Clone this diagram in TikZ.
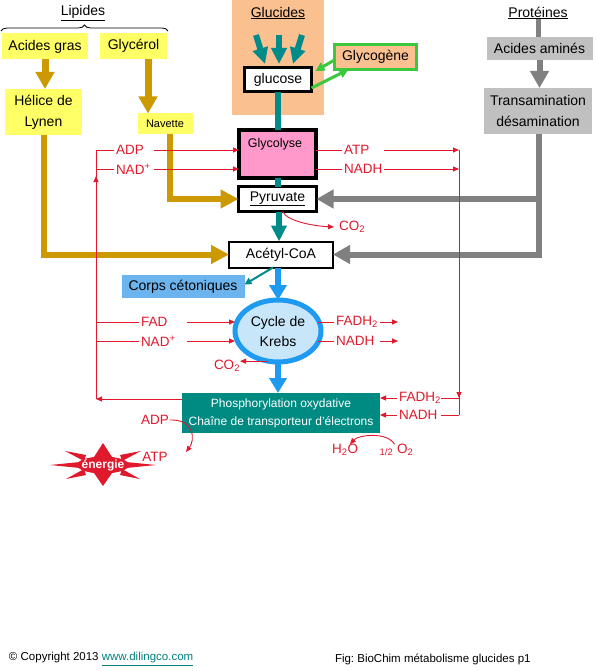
\documentclass[tikz,border=0pt]{standalone}
\usepackage{fontspec}
\setmainfont{Liberation Sans}
\usetikzlibrary{arrows.meta,shapes.geometric,decorations.pathreplacing}
\definecolor{yelc}{HTML}{FFFF66}
\definecolor{goldc}{HTML}{CC9900}
\definecolor{tealc}{HTML}{008B8B}
\definecolor{phc}{HTML}{008B82}
\definecolor{peachc}{HTML}{FAC090}
\definecolor{greenc}{HTML}{3CC83C}
\definecolor{gboxc}{HTML}{C0C0C0}
\definecolor{garrc}{HTML}{808080}
\definecolor{pinkc}{HTML}{FF99CC}
\definecolor{corpsc}{HTML}{6CB4EE}
\definecolor{bluec}{HTML}{1E9BF0}
\definecolor{krebsc}{HTML}{C8E6FA}
\definecolor{redc}{HTML}{E0192D}
\definecolor{linkc}{HTML}{008080}
\newcommand\myfs[1]{\fontsize{#1}{#1}\selectfont}
\frenchspacing
\begin{document}
\begin{tikzpicture}[x=1pt,y=-1pt,
  base/.style={inner sep=0pt, outer sep=0pt, font=\myfs{14}, text=black},
  ybox/.style={base, fill=yelc},
  gbox/.style={base, fill=gboxc},
  wbox/.style={base, draw=black, fill=white},
  rl/.style={base, font=\myfs{13.5}, text=redc},
  rlw/.style={rl, inner sep=2pt, align=left},
  goldarrow/.style={draw=goldc, line width=7pt, -{Triangle[width=18pt,length=17pt]}},
  goldarrowb/.style={draw=goldc, line width=6pt, -{Triangle[width=18pt,length=18pt]}},
  tealarrow/.style={draw=tealc, line width=6pt, -{Triangle[width=15pt,length=16pt]}},
  tealline/.style={draw=tealc, line width=6pt},
  greenarrow/.style={draw=greenc, line width=3pt, -{Triangle[width=9pt,length=9pt]}},
  grayarrow/.style={draw=garrc, line width=6pt, -{Triangle[width=18pt,length=17pt]}},
  grayline/.style={draw=garrc, line width=5pt},
  bluearrow/.style={draw=bluec, line width=6pt, -{Triangle[width=17pt,length=15pt]}},
  rline/.style={draw=redc, line width=0.9pt},
  rtip/.style={rline, -{Triangle[width=5pt,length=6pt]}}
]
\useasboundingbox (0,0) rectangle (595,671);
\fill[white] (0,0) rectangle (595,671);

% ---------- backgrounds ----------
\node[fill=peachc, minimum width=92pt, minimum height=115pt, inner sep=0pt] (glubg) at (278,57.5) {};

% ---------- headings ----------
\node[base] (lipides) at (83,13) {\underline{Lipides}};
\node[base] (glucides) at (278,13) {\underline{Glucides}};
\node[base] (proteines) at (538,13) {\underline{Protéines}};
\coordinate (br1) at (1,31);
\coordinate (br2) at (168,31);
\draw[black, line width=0.8pt, decorate, decoration={brace, amplitude=6pt}] (br1) -- (br2);

% ---------- lipid side ----------
\node[ybox, minimum width=86pt, minimum height=26pt] (acides) at (45,46.5) {Acides gras};
\node[ybox, minimum width=67pt, minimum height=26pt] (glycerol) at (133.5,46) {Glycérol};
\node[ybox, minimum width=77pt, minimum height=46pt, align=center] (helice) at (43.5,112) {Hélice de\\[7pt]Lynen};
\node[ybox, font=\myfs{11}, minimum width=55pt, minimum height=21pt] (navette) at (165,124) {Navette};

% ---------- glucide column ----------
\node[wbox, line width=3pt, minimum width=67pt, minimum height=24pt] (glucose) at (278,80) {glucose};
\node[base, draw=greenc, fill=peachc, line width=3pt, minimum width=82pt, minimum height=25pt] (glycogene) at (375.5,57) {Glycogène};
\node[base, draw=black, fill=pinkc, line width=4pt, minimum width=77pt, minimum height=48pt] (glyco) at (277.5,154) {};
\node[base, font=\myfs{12.5}] (glycotxt) at (275,144) {Glycolyse};
\node[wbox, line width=3pt, minimum width=78pt, minimum height=25pt] (pyruvate) at (277.5,199) {\underline{Pyruvate}};
\node[wbox, line width=2pt, minimum width=104pt, minimum height=26pt] (acetyl) at (281,254.5) {Acétyl-CoA};
\node[base, fill=corpsc, minimum width=123pt, minimum height=23pt] (corps) at (183,286.5) {Corps cétoniques};
\node[base, ellipse, draw=bluec, fill=krebsc, line width=5pt, minimum width=86pt, minimum height=62pt, align=center] (krebs) at (278,331) {Cycle de\\[6pt]Krebs};
\node[base, fill=phc, text=white, font=\myfs{12}, minimum width=198pt, minimum height=40pt, align=center] (phosph) at (281,413) {Phosphorylation oxydative\\[6pt]Chaîne de transporteur d'électrons};

% ---------- protein side ----------
\node[gbox, minimum width=106pt, minimum height=23pt] (amines) at (539.5,48.5) {Acides aminés};
\node[gbox, minimum width=108pt, minimum height=46pt, align=center] (transam) at (538,111) {Transamination\\[7pt]désamination};

% ---------- gold arrows ----------
\coordinate (gx) at (148,0);
\draw[goldarrow] (acides.south) -- (acides.south |- helice.north);
\draw[goldarrow] (glycerol.south -| gx) -- (navette.north -| gx);
\draw[goldarrowb] ([xshift=5pt]navette.south) |- (pyruvate.west);
\draw[goldarrowb] (helice.south) |- (acetyl.west);

% ---------- teal arrows ----------
\coordinate (t1s) at (256,35); \coordinate (t1e) at (265,64);
\coordinate (t2s) at (279,35); \coordinate (t2e) at (279,64);
\coordinate (t3s) at (302,35); \coordinate (t3e) at (293,64);
\draw[tealarrow] (t1s) -- (t1e);
\draw[tealarrow] (t3s) -- (t3e);
\draw[tealarrow] (t2s) -- (t2e);
\draw[tealline] (glucose.south) -- (glucose.south |- glyco.north);
\draw[tealline] (glyco.south) -- (glyco.south |- pyruvate.north);
\draw[tealarrow] ([xshift=1.5pt]pyruvate.south) -- ([xshift=1.5pt]pyruvate.south |- acetyl.north);
\draw[draw=tealc, line width=2pt, -{Triangle[width=7pt,length=7pt]}] ([xshift=-8pt]acetyl.south) -- ([yshift=2pt]corps.east);

% ---------- green arrows ----------
\draw[greenarrow] ([yshift=-3pt]glycogene.west) -- ([xshift=4pt,yshift=9pt]glucose.east);
\draw[greenarrow] ([yshift=-8pt]glucose.east) -- ([xshift=14pt]glycogene.south west);

% ---------- gray arrows ----------
\coordinate (gv) at (539,0);
\draw[grayline] (proteines.south) -- (proteines.south |- amines.north);
\draw[grayarrow] (amines.south) -- (amines.south |- transam.north);
\draw[grayarrow] (transam.south -| gv) |- (acetyl.east);
\draw[grayarrow] (pyruvate.east -| gv) -- (pyruvate.east);

% ---------- blue arrows ----------
\draw[bluearrow] (acetyl.south -| krebs.north) -- (krebs.north);
\draw[bluearrow] (krebs.south) -- (krebs.south |- phosph.north);

% ---------- red: glycolysis ----------
\coordinate (LT) at (96,150);
\coordinate (LB) at (96,399);
\coordinate (LA) at (96,176);
\node[rlw, anchor=west, text width=36pt] (adp1) at (114,150) {ADP};
\node[rlw, anchor=west, text width=36pt] (nad1) at (114,169) {NAD\textsuperscript{+}};
\draw[rline] (LB) -- (LT) -- (adp1.west);
\draw[rline] (LT |- nad1.west) -- (nad1.west);
\draw[rtip] (LB) -- (LA);
\draw[rtip] (LB -| phosph.west) -- (LB);
\draw[rtip] (adp1.east) -- (adp1.east -| glyco.west);
\draw[rtip] (nad1.east) -- (nad1.east -| glyco.west);

\node[rlw, anchor=west, text width=38pt] (atp1) at (342,150) {ATP};
\node[rlw, anchor=west, text width=38pt] (nadh1) at (342,169) {NADH};
\draw[rline] (atp1.west -| glyco.east) -- (atp1.west);
\draw[rline] (nadh1.west -| glyco.east) -- (nadh1.west);
\coordinate (RV) at (459,150);
\coordinate (RA) at (459,398);
\coordinate (RB) at (459,415);
\draw[rtip] (atp1.east) -- (atp1.east -| RV);
\draw[rtip] (nadh1.east) -- (nadh1.east -| RV);
\draw[rline] (RV) -- (RB);
\draw[rtip] (RV) -- (RA);

\node[rlw, anchor=east, text width=40pt] (fadh2b) at (441,398) {FADH\textsubscript{2}};
\node[rlw, anchor=east, text width=40pt] (nadh3) at (441,415) {NADH};
\draw[rline] (RA) -- (fadh2b.east);
\draw[rline] (RB) -- (nadh3.east);
\draw[rtip] (fadh2b.west) -- (fadh2b.west -| phosph.east);
\draw[rtip] (nadh3.west) -- (nadh3.west -| phosph.east);

% ---------- red: pyruvate CO2 ----------
\node[rl] (co2p) at (352,227) {CO\textsubscript{2}};
\draw[rtip] ([xshift=5pt]pyruvate.south) .. controls +(5,10) and +(-20,-1) .. ([xshift=-5pt]co2p.west);

% ---------- red: Krebs ----------
\node[rlw, anchor=west, text width=44pt] (fad) at (139,322) {FAD};
\node[rlw, anchor=west, text width=44pt] (nad2) at (139,341) {NAD\textsuperscript{+}};
\draw[rline] (LT |- fad.west) -- (fad.west);
\draw[rline] (LT |- nad2.west) -- (nad2.west);
\draw[rtip] (fad.east) -- (fad.east -| krebs.west);
\draw[rtip] (nad2.east) -- (nad2.east -| krebs.west);

\node[rlw, anchor=west, text width=42pt] (fadh2k) at (334,322) {FADH\textsubscript{2}};
\node[rlw, anchor=west, text width=42pt] (nadh2) at (334,341) {NADH};
\coordinate (KR) at (398,0);
\draw[rline] ([xshift=-3pt]fadh2k.west -| krebs.east) -- (fadh2k.west);
\draw[rline] ([xshift=-3pt]nadh2.west -| krebs.east) -- (nadh2.west);
\draw[rtip] (fadh2k.east) -- (fadh2k.east -| KR);
\draw[rtip] (nadh2.east) -- (nadh2.east -| KR);

\node[rl] (co2k) at (227,366) {CO\textsubscript{2}};
\draw[rtip] (krebs.252) -- (krebs.252 -| co2k.east);

% ---------- red: oxidative phosphorylation ----------
\node[rl] (adp2) at (155,420) {ADP};
\node[rl] (atp2) at (155,457) {ATP};
\coordinate (AE) at (186,452);
\draw[rtip] ([xshift=1pt]adp2.east) .. controls +(25,-1) and +(9,-12) .. (AE);

\node[rl] (h2o) at (345,450) {H\textsubscript{2}O};
\node[rl] (o2) at (396.5,450) {\textsubscript{1/2} O\textsubscript{2}};
\draw[rtip] ([xshift=-2pt]o2.north) .. controls +(-8,-13) and +(8,-9) .. ([xshift=5pt]h2o.north);

% ---------- energy star ----------
\fill[redc] (50,465) -- (80,462) -- (80,468) -- cycle;
\fill[redc] (156,465) -- (126,462) -- (126,468) -- cycle;
\fill[redc] (103,443) -- (94,457) -- (112,457) -- cycle;
\fill[redc] (103,486) -- (94,473) -- (112,473) -- cycle;
\fill[redc] (65,451) -- (84,461) -- (86,455) -- cycle;
\fill[redc] (141,451) -- (122,461) -- (120,455) -- cycle;
\fill[redc] (66,479) -- (84,469) -- (86,475) -- cycle;
\fill[redc] (140,479) -- (122,469) -- (120,475) -- cycle;
\fill[redc] (103,465) ellipse [x radius=26, y radius=8.5];
\node[base, text=white, font=\bfseries\myfs{12}] (energie) at (103,465) {énergie};

% ---------- footer ----------
\node[base, font=\myfs{11.5}, anchor=west] (copy) at (9,659) {© Copyright 2013 \textcolor{linkc}{\underline{www.dilingco.com}}};
\node[base, font=\myfs{11.5}, anchor=west] (fig) at (335,659) {Fig: BioChim métabolisme glucides p1};
\end{tikzpicture}
\end{document}
